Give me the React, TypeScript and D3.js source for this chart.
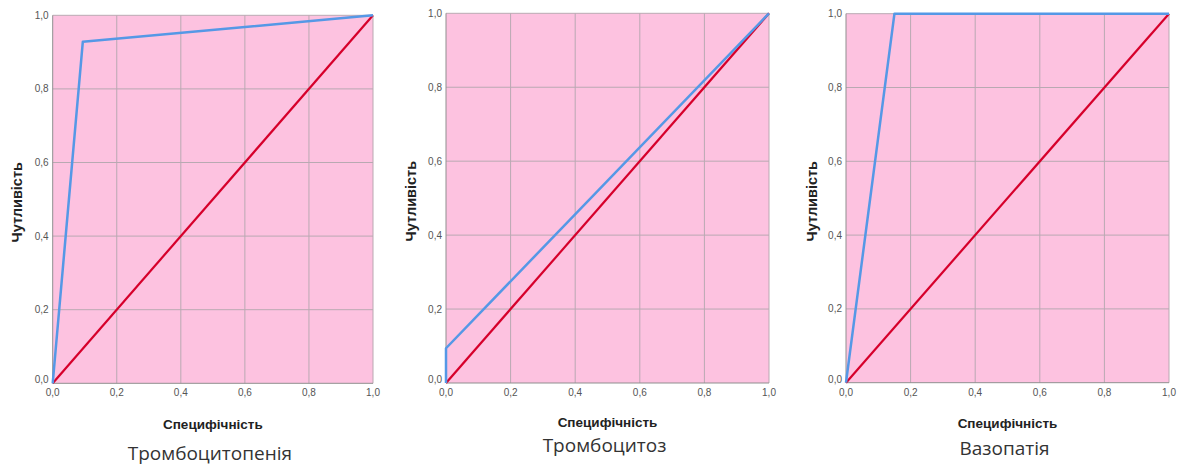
import React, { useEffect, useRef } from 'react';
import * as d3 from 'd3';

// ROC curves: [1 - specificity, sensitivity]
const titles = ['Тромбоцитопенія', 'Тромбоцитоз', 'Вазопатія'];
const rocThrombocytopenia: [number, number][] = [[0, 0], [0.094, 0.928], [1, 1]];
const rocThrombocytosis: [number, number][] = [[0, 0], [0, 0.094], [1, 1]];
const rocVasopathy: [number, number][] = [[0, 0], [0.15, 1], [1, 1]];
const reference: [number, number][] = [[0, 0], [1, 1]];
const tickValues = [0, 0.2, 0.4, 0.6, 0.8, 1.0];
const xLabel = 'Специфічність';
const yLabel = 'Чутливість';

const panels = [
  { roc: rocThrombocytopenia, left: 52.7, right: 373, top: 15.3, bottom: 383.3, titleY: 460, xTitleY: 429, yLabelX: 17 },
  { roc: rocThrombocytosis, left: 446, right: 769, top: 13.3, bottom: 383, titleY: 452, xTitleY: 427, yLabelX: 411 },
  { roc: rocVasopathy, left: 846, right: 1169, top: 13.7, bottom: 382.7, titleY: 455, xTitleY: 428, yLabelX: 812 },
];

const fmt = (v: number) => v.toFixed(1).replace('.', ',');

const App = () => {
  const svgRef = useRef<SVGSVGElement>(null);

  useEffect(() => {
    const svg = d3.select(svgRef.current);
    svg.selectAll('*').remove();

    panels.forEach((p, i) => {
      const x = d3.scaleLinear().domain([0, 1]).range([p.left, p.right]);
      const y = d3.scaleLinear().domain([0, 1]).range([p.bottom, p.top]);
      const g = svg.append('g');

      // background
      g.append('rect')
        .attr('x', p.left)
        .attr('y', p.top)
        .attr('width', p.right - p.left)
        .attr('height', p.bottom - p.top)
        .attr('fill', '#fdc2e0');

      // grid
      g.selectAll('line.gx')
        .data(tickValues.slice(1))
        .enter()
        .append('line')
        .attr('x1', d => x(d)).attr('x2', d => x(d))
        .attr('y1', p.top).attr('y2', p.bottom)
        .attr('stroke', '#b9a9b2')
        .attr('stroke-width', 1);
      g.selectAll('line.gy')
        .data(tickValues.slice(1))
        .enter()
        .append('line')
        .attr('x1', p.left).attr('x2', p.right)
        .attr('y1', d => y(d)).attr('y2', d => y(d))
        .attr('stroke', '#b9a9b2')
        .attr('stroke-width', 1);

      // axes lines
      g.append('line')
        .attr('x1', p.left).attr('x2', p.left)
        .attr('y1', p.top).attr('y2', p.bottom)
        .attr('stroke', '#8f8f8f').attr('stroke-width', 1);
      g.append('line')
        .attr('x1', p.left).attr('x2', p.right)
        .attr('y1', p.bottom).attr('y2', p.bottom)
        .attr('stroke', '#8f8f8f').attr('stroke-width', 1);

      // tick labels
      g.selectAll('text.ty')
        .data(tickValues)
        .enter()
        .append('text')
        .attr('x', p.left - 4)
        .attr('y', d => y(d) + (d === 0 ? 0 : 3.5))
        .attr('text-anchor', 'end')
        .attr('font-family', 'Liberation Sans, Arial, sans-serif')
        .attr('font-size', 10)
        .attr('fill', '#555')
        .text(d => fmt(d));
      g.selectAll('text.tx')
        .data(tickValues)
        .enter()
        .append('text')
        .attr('x', d => x(d))
        .attr('y', p.bottom + 13)
        .attr('text-anchor', 'middle')
        .attr('font-family', 'Liberation Sans, Arial, sans-serif')
        .attr('font-size', 10)
        .attr('fill', '#555')
        .text(d => fmt(d));

      const line = d3.line<[number, number]>()
        .x(d => x(d[0]))
        .y(d => y(d[1]));

      g.append('path')
        .attr('d', line(reference))
        .attr('fill', 'none')
        .attr('stroke', '#d6002b')
        .attr('stroke-width', 2.2);

      g.append('path')
        .attr('d', line(p.roc))
        .attr('fill', 'none')
        .attr('stroke', '#5598e6')
        .attr('stroke-width', 2.5)
        .attr('stroke-linejoin', 'round');

      // axis titles
      const cx = (p.left + p.right) / 2;
      g.append('text')
        .attr('x', cx)
        .attr('y', p.xTitleY)
        .attr('text-anchor', 'middle')
        .attr('font-family', 'Liberation Sans, Arial, sans-serif')
        .attr('font-weight', 'bold')
        .attr('font-size', 13.5)
        .attr('fill', '#222')
        .text(xLabel);

      g.append('text')
        .attr('transform', `translate(${p.yLabelX + 5}, ${(p.top + p.bottom) / 2 + 3}) rotate(-90)`)
        .attr('text-anchor', 'middle')
        .attr('font-family', 'Liberation Sans, Arial, sans-serif')
        .attr('font-weight', 'bold')
        .attr('font-size', 14.5)
        .attr('fill', '#222')
        .text(yLabel);

      g.append('text')
        .attr('x', cx - 3)
        .attr('y', p.titleY)
        .attr('text-anchor', 'middle')
        .attr('font-family', 'Open Sans, Noto Sans, sans-serif')
        .attr('font-size', 19)
        .attr('fill', '#333')
        .text(titles[i]);
    });
  }, []);

  return (
    <svg
      ref={svgRef}
      width={1179}
      height={466}
      style={{ position: 'absolute', left: 0, top: 0, background: '#fff' }}
    />
  );
};

export default App;
